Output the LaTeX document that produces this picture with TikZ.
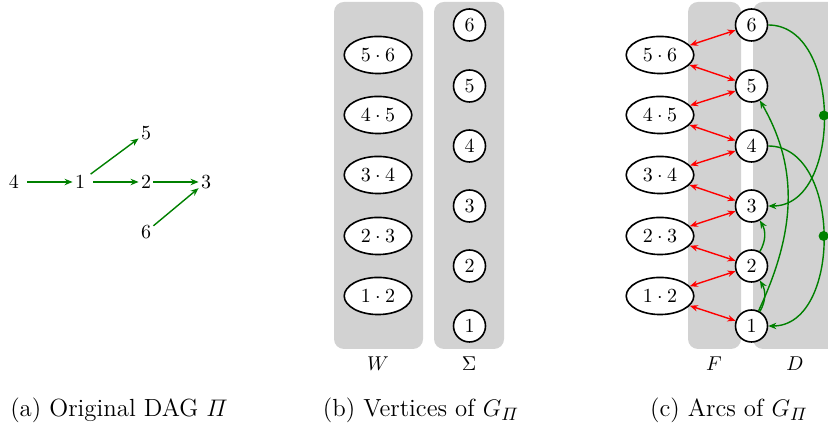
\documentclass[tikz,border=0pt]{standalone}
\usepackage{amsmath}
\usetikzlibrary{arrows.meta,shapes.geometric}
\begin{document}
\begin{tikzpicture}[x=0.5pt,y=0.5pt,
  panel/.style={fill=gray!35, rounded corners=5pt, draw=none},
  pairn/.style={ellipse, draw, thick, fill=white},
  vert/.style={circle, draw, thick, fill=white, minimum size=16pt, inner sep=1pt},
  plainn/.style={inner sep=1pt},
  garr/.style={draw=green!50!black, line width=0.7pt, -{Stealth[length=4pt,width=3.2pt]}},
  rarr/.style={draw=red, line width=0.7pt, {Stealth[length=4pt,width=3.2pt]}-{Stealth[length=4pt,width=3.2pt]}},
  dotn/.style={circle, fill=green!50!black, inner sep=0pt, minimum size=5pt},
  capn/.style={font=\fontsize{12.4}{15}\selectfont}]
\clip (0,0) rectangle (828,431);
% panel (a)
\node[plainn] (a4) at (14,249) {$4$};
\node[plainn] (a1) at (80,249) {$1$};
\node[plainn] (a2) at (146,249) {$2$};
\node[plainn] (a3) at (206,249) {$3$};
\node[plainn] (a5) at (146,298) {$5$};
\node[plainn] (a6) at (146,199) {$6$};
\draw[garr, shorten <=3pt] (a4) -- (a1);
\draw[garr, shorten <=2pt] (a1) -- (a5);
\draw[garr, shorten <=3pt] (a1) -- (a2);
\draw[garr] (a2) -- (a3);
\draw[garr] (a6) -- (a3);
% panel (b)
\path[panel] (334,82) rectangle (423,429);
\path[panel] (434,82) rectangle (504,429);
\node (lw) at (378,67) {$W$};
\node (ls) at (469,67) {$\Sigma$};
\node[pairn] (b56) at (378,376) {$5\cdot 6$};
\node[pairn] (b45) at (378,316) {$4\cdot 5$};
\node[pairn] (b34) at (378,256) {$3\cdot 4$};
\node[pairn] (b23) at (378,195) {$2\cdot 3$};
\node[pairn] (b12) at (378,135) {$1\cdot 2$};
\node[vert] (b6) at (469.5,406) {$6$};
\node[vert] (b5) at (469.5,345) {$5$};
\node[vert] (b4) at (469.5,285) {$4$};
\node[vert] (b3) at (469.5,225) {$3$};
\node[vert] (b2) at (469.5,165) {$2$};
\node[vert] (b1) at (469.5,105) {$1$};
% panel (c)
\path[panel] (688,82) rectangle (741,429);
\path[panel] (753,82) rectangle (850,429);
\node (lf) at (714,67) {$F$};
\node (ld) at (795,67) {$D$};
\node[pairn] (c56) at (660,376) {$5\cdot 6$};
\node[pairn] (c45) at (660,316) {$4\cdot 5$};
\node[pairn] (c34) at (660,256) {$3\cdot 4$};
\node[pairn] (c23) at (660,195) {$2\cdot 3$};
\node[pairn] (c12) at (660,135) {$1\cdot 2$};
\node[vert] (c6) at (751.5,406) {$6$};
\node[vert] (c5) at (751.5,345) {$5$};
\node[vert] (c4) at (751.5,285) {$4$};
\node[vert] (c3) at (751.5,225) {$3$};
\node[vert] (c2) at (751.5,165) {$2$};
\node[vert] (c1) at (751.5,105) {$1$};
\draw[rarr] (c56) -- (c6);
\draw[rarr] (c56) -- (c5);
\draw[rarr] (c45) -- (c5);
\draw[rarr] (c45) -- (c4);
\draw[rarr] (c34) -- (c4);
\draw[rarr] (c34) -- (c3);
\draw[rarr] (c23) -- (c3);
\draw[rarr] (c23) -- (c2);
\draw[rarr] (c12) -- (c2);
\draw[rarr] (c12) -- (c1);
\draw[garr] (c6) to[out=0,in=0,looseness=1.05] node[dotn] (d1) {} (c3);
\draw[garr] (c4) to[out=0,in=0,looseness=1.05] node[dotn] (d2) {} (c1);
\draw[garr] (c1) to[out=65,in=-60] (c5);
\draw[garr] (c1) to[out=60,in=-60] (c2);
\draw[garr] (c2) to[out=60,in=-60] (c3);
% captions
\node[capn] (capa) at (119,21) {(a) Original DAG $\varPi$};
\node[capn] (capb) at (421,21) {(b) Vertices of $G_{\varPi}$};
\node[capn] (capc) at (729,21) {(c) Arcs of $G_{\varPi}$};
\end{tikzpicture}
\end{document}
